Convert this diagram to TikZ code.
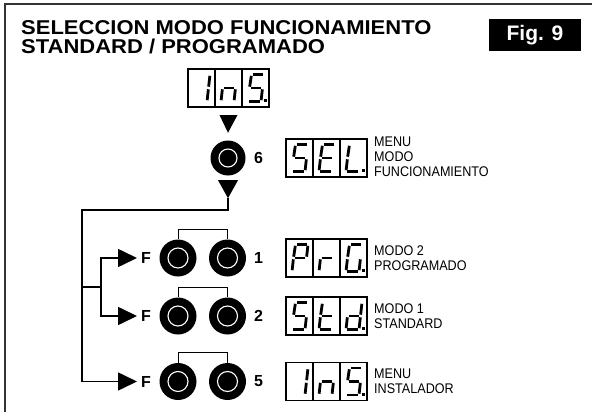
\documentclass[tikz,border=0pt]{standalone}
\usepackage{fontspec}
\setmainfont{Liberation Sans}
\newfontfamily\titlefont[FakeStretch=1.1]{Liberation Sans}
\newfontfamily\narrowfont[FakeStretch=0.9]{Liberation Sans}
\usetikzlibrary{calc,arrows.meta}
% segments of the seven segment characters
\def\segI{tr/mr,mr/br}
\def\segn{ml/mr,ml/bl,mr/br}
\def\segS{tl/tr,tl/ml,ml/mr,mr/br,bl/br}
\def\segE{tl/tr,tl/ml,ml/mr,ml/bl,bl/br}
\def\segL{tl/ml,ml/bl,bl/br}
\def\segP{tl/tr,tr/mr,tl/ml,ml/mr,ml/bl}
\def\segr{ml/mr,ml/bl}
\def\segG{tl/tr,tl/ml,ml/bl,bl/br,mr/br}
\def\segt{tl/ml,ml/bl,ml/mr,bl/br}
\def\segd{tr/mr,mr/br,bl/br,ml/bl,ml/mr}
\def\segdigit(#1)#2{%
	\begin{scope}[shift={(#1)}]
		\coordinate (tl) at (9.5,5.5); \coordinate (tr) at (22,5.5);
		\coordinate (ml) at (7.5,19); \coordinate (mr) at (20.5,19);
		\coordinate (bl) at (6,32.5); \coordinate (br) at (19,32.5);
		\foreach \p/\q in #2 {\draw[seg] (\p) -- (\q);}
	\end{scope}}
\def\segdisplay#1#2#3#4{%
	\begin{scope}[shift={(#1.north west)}]
		\draw[cellline] (27,0) -- (27,38) (54,0) -- (54,38);
		\segdigit(0,0){#2}
		\segdigit(27,0){#3}
		\segdigit(54,0){#4}
		\fill (75.5,30) rectangle ++(3,3);
	\end{scope}}

\begin{document}
\begin{tikzpicture}[x=1pt,y=-1pt,
	frame/.style={line width=2pt,color=black!80},
	title/.style={anchor=base west,inner sep=0pt,font=\titlefont\bfseries\fontsize{20}{20}\selectfont},
	figbox/.style={fill=black,text=white,inner sep=0pt,minimum width=92pt,minimum height=32pt,font=\bfseries\fontsize{21}{21}\selectfont},
	dispbox/.style={draw,line width=1.2pt,inner sep=0pt,outer sep=0pt,minimum width=81pt,minimum height=38pt},
	cellline/.style={line width=1.1pt},
	seg/.style={line width=2.8pt,shorten <=1.3pt,shorten >=1.3pt},
	btn/.style 2 args={circle,fill=black,inner sep=0pt,minimum size=#1,
		path picture={\draw[white,line width=1.1pt] (path picture bounding box.center) circle (#2);}},
	num/.style={inner sep=0pt,font=\bfseries\fontsize{16}{16}\selectfont},
	note/.style={anchor=west,align=left,inner sep=0pt,font=\narrowfont\fontsize{14}{15}\selectfont},
	conn/.style={line width=1.6pt},
	arr/.style={conn,-{Triangle[length=19pt,width=18pt]},shorten >=4pt},
	bracket/.style={line width=1pt}]
			\useasboundingbox (0,0) rectangle (592,412);
			%%%%% START %%%%%
			
			\draw[frame] (5,412) -- (5,4.5) -- (592,4.5);
			
			\node[title] (title1) at (21,35) {SELECCION MODO FUNCIONAMIENTO};
			\node[title] (title2) at (21,53.5) {STANDARD / PROGRAMADO};
			\node[figbox] (fig) at (535,35) {Fig. 9};
			
			\node[dispbox] (dtop) at (228.5,88) {};
			\segdisplay{dtop}{\segI}{\segn}{\segS}
			
			\node[btn={35pt}{9pt}] (b6) at (228,158) {};
			\node[num] (n6) at (258.5,158) {6};
			\fill ($(dtop.south)+(-9,8)$) -- ++(18,0) -- ($(b6.north)+(0,-7.5)$) -- cycle;
			
			\node[dispbox] (dsel) at (326.5,158) {};
			\segdisplay{dsel}{\segS}{\segE}{\segL}
			\node[note] (tsel) at (374,157) {MENU\\MODO\\FUNCIONAMIENTO};
			
			\fill ($(b6.south)+(-10,4.5)$) -- ++(20,0) -- ++(-10,18) -- cycle;
			\coordinate (tip) at ($(b6.south)+(0,22.5)$);
			\coordinate (trunk) at (82,210);
			\coordinate (fork) at (82,287);
			\coordinate (forkr) at (101,287);
			
			% row 1
			\node[num,anchor=west] (f1) at (141,258) {F};
			\node[btn={37pt}{10pt}] (p1a) at (178,258) {};
			\node[btn={37pt}{10pt}] (p1b) at (227.5,258) {};
			\draw[bracket] (p1a.north) -- ++(0,-10) -| (p1b.north);
			\node[num] (n1) at (258.5,258) {1};
			\node[dispbox] (dprg) at (326.5,258) {};
			\segdisplay{dprg}{\segP}{\segr}{\segG}
			\node[note] (tprg) at (374,258) {MODO 2\\PROGRAMADO};
			
			% row 2
			\node[num,anchor=west] (f2) at (141,316) {F};
			\node[btn={37pt}{10pt}] (p2a) at (178,316) {};
			\node[btn={37pt}{10pt}] (p2b) at (227.5,316) {};
			\draw[bracket] (p2a.north) -- ++(0,-10) -| (p2b.north);
			\node[num] (n2) at (258.5,316) {2};
			\node[dispbox] (dstd) at (326.5,316) {};
			\segdisplay{dstd}{\segS}{\segt}{\segd}
			\node[note] (tstd) at (374,316) {MODO 1\\STANDARD};
			
			% row 3
			\node[num,anchor=west] (f5) at (141,381.5) {F};
			\node[btn={37pt}{10pt}] (p5a) at (178,381.5) {};
			\node[btn={37pt}{10pt}] (p5b) at (227.5,381.5) {};
			\draw[bracket] (p5a.north) -- ++(0,-10) -| (p5b.north);
			\node[num] (n5) at (258.5,381.5) {5};
			\node[dispbox] (dins) at (326.5,381.5) {};
			\segdisplay{dins}{\segI}{\segn}{\segS}
			\node[note] (tins) at (374,381.5) {MENU\\INSTALADOR};
			
			\draw[conn] (tip) |- (trunk) -- (fork);
			\draw[conn] (fork) -- (forkr);
			\draw[arr] (fork) |- (f5.west);
			\draw[arr] (forkr) |- (f1.west);
			\draw[arr] (forkr) |- (f2.west);
			
			%%%%% END %%%%%
		\end{tikzpicture}
\end{document}
